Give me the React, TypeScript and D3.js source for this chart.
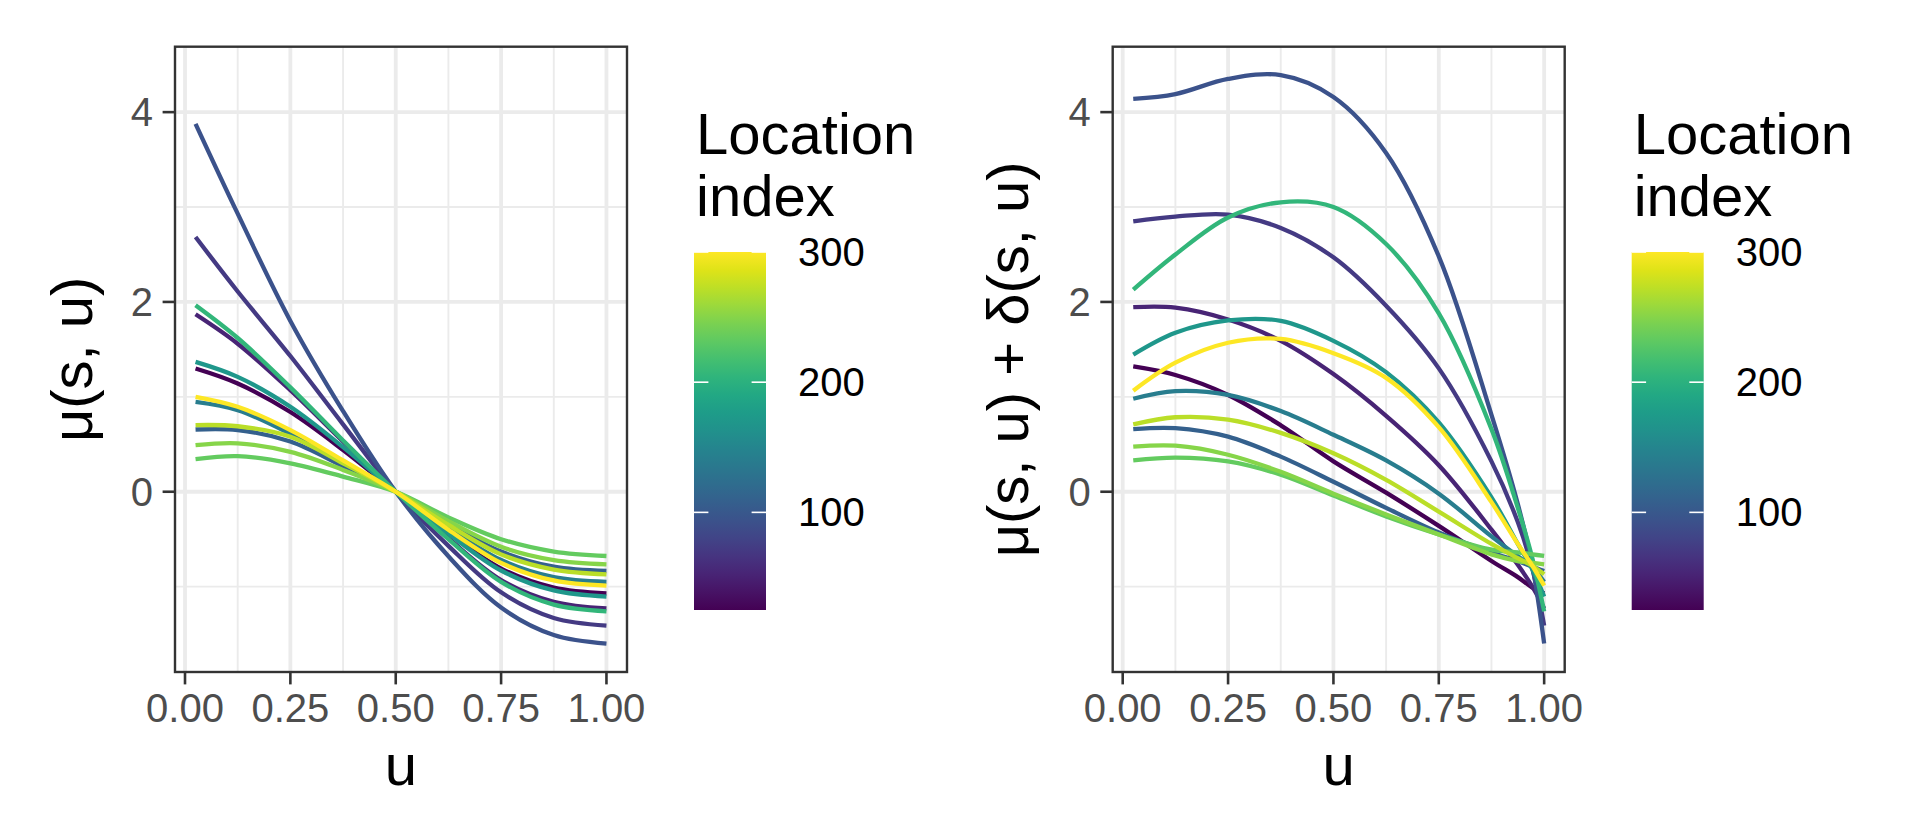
import * as d3 from "d3";

// location index of each curve
const LOCATION_INDEX = [94, 72, 206, 52, 171, 25, 300, 140, 272, 108, 250, 234];

// left panel: mu(s, u)
const U_MU = [0.025, 0.125, 0.25, 0.375, 0.5, 0.625, 0.75, 0.875, 1.0];
const MU = [
  [3.877, 2.93, 1.8, 0.85, 0, -0.68, -1.22, -1.51, -1.6],
  [2.684, 2.11, 1.43, 0.71, 0, -0.57, -1.06, -1.33, -1.41],
  [1.965, 1.62, 1.1, 0.54, 0, -0.5, -0.95, -1.19, -1.26],
  [1.87, 1.56, 1.07, 0.53, 0, -0.49, -0.93, -1.16, -1.23],
  [1.368, 1.21, 0.895, 0.47, 0, -0.44, -0.83, -1.04, -1.105],
  [1.298, 1.14, 0.84, 0.44, 0, -0.43, -0.81, -1.01, -1.07],
  [1.0, 0.895, 0.65, 0.33, 0, -0.4, -0.75, -0.935, -0.99],
  [0.947, 0.86, 0.61, 0.3, 0, -0.38, -0.72, -0.9, -0.95],
  [0.702, 0.69, 0.58, 0.3, 0, -0.35, -0.66, -0.82, -0.87],
  [0.656, 0.65, 0.53, 0.27, 0, -0.34, -0.63, -0.79, -0.835],
  [0.49, 0.51, 0.42, 0.23, 0, -0.31, -0.58, -0.72, -0.765],
  [0.344, 0.375, 0.3, 0.16, 0, -0.27, -0.5, -0.63, -0.677],
];

// right panel: mu(s, u) + delta(s, u)
const U_MU_DELTA = [0.025, 0.125, 0.25, 0.375, 0.5, 0.625, 0.75, 0.875, 0.9375, 0.972, 1.0];
const MU_DELTA = [
  [4.14, 4.19, 4.35, 4.39, 4.16, 3.57, 2.48, 0.81, -0.13, -0.78, -1.6],
  [2.85, 2.9, 2.92, 2.78, 2.47, 1.96, 1.3, 0.32, -0.32, -0.81, -1.41],
  [2.13, 2.5, 2.89, 3.05, 3.0, 2.61, 1.88, 0.66, -0.17, -0.7, -1.26],
  [1.945, 1.94, 1.815, 1.59, 1.24, 0.8, 0.28, -0.4, -0.77, -1.0, -1.23],
  [1.445, 1.675, 1.805, 1.8, 1.59, 1.26, 0.73, -0.06, -0.55, -0.82, -1.105],
  [1.32, 1.23, 1.02, 0.7, 0.32, -0.01, -0.36, -0.73, -0.9, -1.01, -1.07],
  [1.065, 1.36, 1.57, 1.61, 1.46, 1.2, 0.68, -0.11, -0.55, -0.78, -0.99],
  [0.98, 1.06, 1.02, 0.85, 0.6, 0.33, -0.02, -0.47, -0.68, -0.8, -0.95],
  [0.71, 0.785, 0.76, 0.62, 0.405, 0.125, -0.21, -0.55, -0.7, -0.78, -0.87],
  [0.66, 0.67, 0.58, 0.37, 0.105, -0.17, -0.43, -0.64, -0.73, -0.79, -0.835],
  [0.475, 0.485, 0.39, 0.21, -0.02, -0.24, -0.45, -0.66, -0.73, -0.75, -0.765],
  [0.33, 0.36, 0.32, 0.18, -0.04, -0.26, -0.45, -0.61, -0.64, -0.66, -0.677],
];

const X_TICKS = [0, 0.25, 0.5, 0.75, 1];
const X_MINOR = [0.125, 0.375, 0.625, 0.875];
const Y_TICKS = [0, 2, 4];
const Y_MINOR = [-1, 1, 3];
const LEGEND_TICKS = [100, 200, 300];

const FONT = "'Liberation Sans', Arial, sans-serif";
const PANEL = { top: 46.7, bottom: 672, width: 452 };
const PANEL_LEFTS = [175, 1112.7];
const BAR = { offset: 519, top: 252, bottom: 610, width: 72 };

// ggplot style 5% expansion of the data range
const expand = (ext: [number, number]) => {
  const pad = (ext[1] - ext[0]) * 0.05;
  return [ext[0] - pad, ext[1] + pad];
};
const xDomain = expand(d3.extent([...U_MU, ...U_MU_DELTA]) as [number, number]);
const yDomain = expand(d3.extent([...MU.flat(), ...MU_DELTA.flat()]) as [number, number]);

const color = d3
  .scaleSequential(d3.interpolateViridis)
  .domain(d3.extent(LOCATION_INDEX) as [number, number]);

// draw in order of location index, like ggplot groups
const order = d3.range(LOCATION_INDEX.length).sort((a, b) => LOCATION_INDEX[a] - LOCATION_INDEX[b]);

type PanelProps = { left: number; u: number[]; values: number[][]; title: string; titleX: number };

const Panel = ({ left, u, values, title, titleX }: PanelProps) => {
  const x = d3.scaleLinear().domain(xDomain).range([left, left + PANEL.width]);
  const y = d3.scaleLinear().domain(yDomain).range([PANEL.bottom, PANEL.top]);
  const line = d3
    .line<number>()
    .x((_, i) => x(u[i]))
    .y((d) => y(d))
    .curve(d3.curveCatmullRom.alpha(0.5));

  return (
    <g>
      <rect x={left} y={PANEL.top} width={PANEL.width} height={PANEL.bottom - PANEL.top} fill="white" />
      {X_MINOR.map((v) => (
        <line key={"xm" + v} x1={x(v)} x2={x(v)} y1={PANEL.top} y2={PANEL.bottom} stroke="#EBEBEB" strokeWidth={1.9} />
      ))}
      {Y_MINOR.map((v) => (
        <line key={"ym" + v} x1={left} x2={left + PANEL.width} y1={y(v)} y2={y(v)} stroke="#EBEBEB" strokeWidth={1.9} />
      ))}
      {X_TICKS.map((v) => (
        <line key={"xg" + v} x1={x(v)} x2={x(v)} y1={PANEL.top} y2={PANEL.bottom} stroke="#EBEBEB" strokeWidth={3.8} />
      ))}
      {Y_TICKS.map((v) => (
        <line key={"yg" + v} x1={left} x2={left + PANEL.width} y1={y(v)} y2={y(v)} stroke="#EBEBEB" strokeWidth={3.8} />
      ))}
      {order.map((i) => (
        <path key={i} d={line(values[i]) ?? ""} fill="none" stroke={color(LOCATION_INDEX[i])} strokeWidth={4.3} />
      ))}
      <rect
        x={left}
        y={PANEL.top}
        width={PANEL.width}
        height={PANEL.bottom - PANEL.top}
        fill="none"
        stroke="#333333"
        strokeWidth={2.4}
      />
      {X_TICKS.map((v) => (
        <g key={"xt" + v}>
          <line x1={x(v)} x2={x(v)} y1={PANEL.bottom} y2={PANEL.bottom + 12.4} stroke="#333333" strokeWidth={2.6} />
          <text x={x(v)} y={722} textAnchor="middle" fontSize={40} fill="#4D4D4D" fontFamily={FONT}>
            {v.toFixed(2)}
          </text>
        </g>
      ))}
      {Y_TICKS.map((v) => (
        <g key={"yt" + v}>
          <line x1={left - 12.4} x2={left} y1={y(v)} y2={y(v)} stroke="#333333" strokeWidth={2.6} />
          <text
            x={left - 22}
            y={y(v)}
            textAnchor="end"
            dominantBaseline="central"
            fontSize={40}
            fill="#4D4D4D"
            fontFamily={FONT}
          >
            {v}
          </text>
        </g>
      ))}
      <text x={left + PANEL.width / 2} y={785} textAnchor="middle" fontSize={58} fill="black" fontFamily={FONT}>
        u
      </text>
      <text
        transform={`translate(${titleX},${(PANEL.top + PANEL.bottom) / 2}) rotate(-90)`}
        textAnchor="middle"
        fontSize={58}
        fill="black"
        fontFamily={FONT}
      >
        {title}
      </text>
    </g>
  );
};

const Legend = ({ left, id }: { left: number; id: string }) => {
  const scale = d3
    .scaleLinear()
    .domain(d3.extent(LOCATION_INDEX) as [number, number])
    .range([BAR.bottom, BAR.top]);
  const stops = d3.range(0, 1.0001, 0.05);
  return (
    <g>
      <defs>
        <linearGradient id={id} x1="0" y1="1" x2="0" y2="0">
          {stops.map((t) => (
            <stop key={t} offset={t} stopColor={d3.interpolateViridis(t)} />
          ))}
        </linearGradient>
      </defs>
      <text x={left + 2} y={154} fontSize={58} fill="black" fontFamily={FONT}>
        Location
      </text>
      <text x={left + 2} y={216} fontSize={58} fill="black" fontFamily={FONT}>
        index
      </text>
      <rect x={left} y={BAR.top} width={BAR.width} height={BAR.bottom - BAR.top} fill={`url(#${id})`} />
      {LEGEND_TICKS.map((v) => (
        <g key={v}>
          <line x1={left} x2={left + BAR.width * 0.2} y1={scale(v)} y2={scale(v)} stroke="white" strokeWidth={1.6} />
          <line
            x1={left + BAR.width * 0.8}
            x2={left + BAR.width}
            y1={scale(v)}
            y2={scale(v)}
            stroke="white"
            strokeWidth={1.6}
          />
          <text
            x={left + BAR.width + 32}
            y={scale(v)}
            dominantBaseline="central"
            fontSize={40}
            fill="black"
            fontFamily={FONT}
          >
            {v}
          </text>
        </g>
      ))}
    </g>
  );
};

export default function App() {
  return (
    <div style={{ position: "absolute", left: 0, top: 0 }}>
      <svg width={1920} height={840} style={{ display: "block", background: "white" }}>
        <Panel left={PANEL_LEFTS[0]} u={U_MU} values={MU} title="μ(s, u)" titleX={92} />
        <Legend left={PANEL_LEFTS[0] + BAR.offset} id="bar-left" />
        <Panel
          left={PANEL_LEFTS[1]}
          u={U_MU_DELTA}
          values={MU_DELTA}
          title="μ(s, u) + δ(s, u)"
          titleX={1028}
        />
        <Legend left={PANEL_LEFTS[1] + BAR.offset} id="bar-right" />
      </svg>
    </div>
  );
}
